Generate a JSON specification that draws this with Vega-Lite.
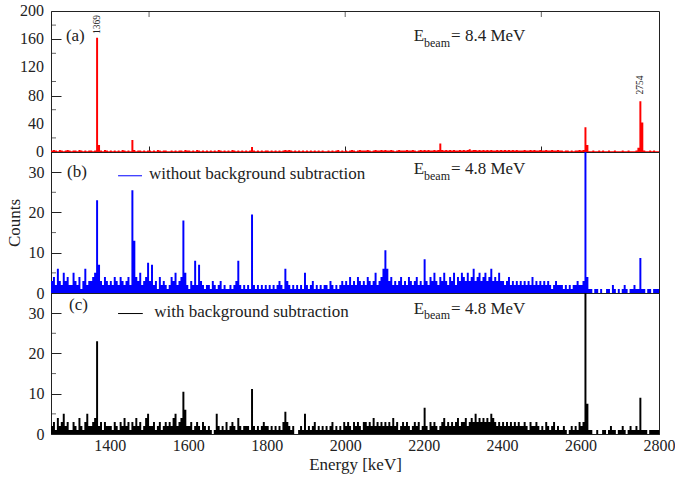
{
"$schema": "https://vega.github.io/schema/vega-lite/v6.json",
"padding": {"left": 4, "top": 2, "right": 0, "bottom": 3},
"spacing": 0,
"bounds": "flush",
"config": {
  "font": "Liberation Serif, Times New Roman, DejaVu Serif, serif",
  "view": {"stroke": "#222222", "strokeWidth": 1},
  "axis": {"labelFont": "Liberation Serif, Times New Roman, DejaVu Serif, serif", "labelFontSize": 16, "labelColor": "#222222", "titleFont": "Liberation Serif, Times New Roman, DejaVu Serif, serif", "titleFontSize": 17, "titleFontWeight": "normal", "titleColor": "#222222", "domainColor": "#222222", "tickColor": "#222222", "grid": false, "labelOverlap": false, "labelFlush": false, "labelBound": false},
  "text": {"font": "Liberation Serif, Times New Roman, DejaVu Serif, serif", "color": "#222222"}
},
"datasets": {
"spec": [
{"e":1250,"a":2,"b":3,"c":2},{"e":1255,"a":3,"b":4,"c":3},{"e":1260,"a":2,"b":2,"c":1},{"e":1265,"a":1,"b":6,"c":4},{"e":1270,"a":3,"b":3,"c":2},{"e":1275,"a":2,"b":2,"c":3},{"e":1280,"a":1,"b":5,"c":5},{"e":1285,"a":2,"b":3,"c":2},{"e":1290,"a":3,"b":4,"c":3},{"e":1295,"a":2,"b":2,"c":1},
{"e":1300,"a":1,"b":2,"c":1},{"e":1305,"a":2,"b":5,"c":3},{"e":1310,"a":2,"b":3,"c":2},{"e":1315,"a":1,"b":2,"c":1},{"e":1320,"a":3,"b":4,"c":4},{"e":1325,"a":2,"b":1,"c":2},{"e":1330,"a":1,"b":3,"c":1},{"e":1335,"a":2,"b":6,"c":3},{"e":1340,"a":1,"b":2,"c":5},{"e":1345,"a":2,"b":3,"c":2},
{"e":1350,"a":2,"b":3,"c":2},{"e":1355,"a":1,"b":4,"c":3},{"e":1360,"a":2,"b":5,"c":4},{"e":1365,"a":162,"b":23,"c":23},{"e":1370,"a":10,"b":7,"c":2},{"e":1375,"a":2,"b":3,"c":3},{"e":1380,"a":1,"b":2,"c":1},{"e":1385,"a":3,"b":4,"c":3},{"e":1390,"a":2,"b":3,"c":2},{"e":1395,"a":1,"b":2,"c":2},
{"e":1400,"a":2,"b":3,"c":2},{"e":1405,"a":1,"b":2,"c":1},{"e":1410,"a":2,"b":4,"c":3},{"e":1415,"a":1,"b":3,"c":2},{"e":1420,"a":2,"b":2,"c":1},{"e":1425,"a":1,"b":4,"c":3},{"e":1430,"a":3,"b":3,"c":2},{"e":1435,"a":2,"b":2,"c":4},{"e":1440,"a":1,"b":3,"c":2},{"e":1445,"a":2,"b":4,"c":3},
{"e":1450,"a":1,"b":2,"c":1},{"e":1455,"a":17,"b":25.5,"c":3},{"e":1460,"a":3,"b":13,"c":2},{"e":1465,"a":1,"b":4,"c":4},{"e":1470,"a":2,"b":3,"c":2},{"e":1475,"a":2,"b":5,"c":3},{"e":1480,"a":1,"b":2,"c":1},{"e":1485,"a":2,"b":3,"c":2},{"e":1490,"a":1,"b":4,"c":4},{"e":1495,"a":2,"b":7.5,"c":5},
{"e":1500,"a":2,"b":3,"c":2},{"e":1505,"a":1,"b":7,"c":2},{"e":1510,"a":2,"b":2,"c":3},{"e":1515,"a":1,"b":3,"c":1},{"e":1520,"a":3,"b":1,"c":2},{"e":1525,"a":2,"b":4,"c":3},{"e":1530,"a":1,"b":2,"c":1},{"e":1535,"a":2,"b":3,"c":2},{"e":1540,"a":2,"b":2,"c":3},{"e":1545,"a":1,"b":1,"c":2},
{"e":1550,"a":1,"b":2,"c":3},{"e":1555,"a":2,"b":4,"c":2},{"e":1560,"a":1,"b":3,"c":4},{"e":1565,"a":2,"b":5,"c":5},{"e":1570,"a":1,"b":2,"c":2},{"e":1575,"a":2,"b":3,"c":3},{"e":1580,"a":2,"b":4,"c":4},{"e":1585,"a":1,"b":18,"c":10.5},{"e":1590,"a":3,"b":5,"c":6},{"e":1595,"a":2,"b":2,"c":2},
{"e":1600,"a":2,"b":1,"c":2},{"e":1605,"a":1,"b":3,"c":3},{"e":1610,"a":2,"b":2,"c":1},{"e":1615,"a":1,"b":8,"c":2},{"e":1620,"a":3,"b":2,"c":3},{"e":1625,"a":2,"b":7,"c":2},{"e":1630,"a":1,"b":3,"c":1},{"e":1635,"a":2,"b":2,"c":3},{"e":1640,"a":1,"b":1,"c":2},{"e":1645,"a":2,"b":2,"c":1},
{"e":1650,"a":1,"b":2,"c":2},{"e":1655,"a":2,"b":1,"c":1},{"e":1660,"a":1,"b":3,"c":0},{"e":1665,"a":2,"b":2,"c":1},{"e":1670,"a":1,"b":1,"c":5},{"e":1675,"a":3,"b":2,"c":2},{"e":1680,"a":2,"b":3,"c":1},{"e":1685,"a":1,"b":1,"c":2},{"e":1690,"a":2,"b":2,"c":1},{"e":1695,"a":1,"b":1,"c":3},
{"e":1700,"a":2,"b":1,"c":1},{"e":1705,"a":1,"b":2,"c":2},{"e":1710,"a":3,"b":1,"c":3},{"e":1715,"a":2,"b":2,"c":2},{"e":1720,"a":1,"b":3,"c":1},{"e":1725,"a":2,"b":8,"c":4},{"e":1730,"a":1,"b":2,"c":2},{"e":1735,"a":2,"b":1,"c":1},{"e":1740,"a":1,"b":2,"c":2},{"e":1745,"a":2,"b":1,"c":2},
{"e":1750,"a":1,"b":2,"c":2},{"e":1755,"a":2,"b":1,"c":1},{"e":1760,"a":7,"b":19.5,"c":11.2},{"e":1765,"a":2,"b":2,"c":2},{"e":1770,"a":1,"b":1,"c":1},{"e":1775,"a":2,"b":2,"c":2},{"e":1780,"a":1,"b":1,"c":1},{"e":1785,"a":2,"b":2,"c":2},{"e":1790,"a":1,"b":1,"c":3},{"e":1795,"a":2,"b":2,"c":2},
{"e":1800,"a":2,"b":1,"c":2},{"e":1805,"a":1,"b":2,"c":1},{"e":1810,"a":2,"b":1,"c":2},{"e":1815,"a":1,"b":2,"c":1},{"e":1820,"a":2,"b":1,"c":2},{"e":1825,"a":1,"b":2,"c":1},{"e":1830,"a":2,"b":3,"c":2},{"e":1835,"a":1,"b":2,"c":1},{"e":1840,"a":2,"b":1,"c":3},{"e":1845,"a":3,"b":6,"c":5.5},
{"e":1850,"a":2,"b":3,"c":3},{"e":1855,"a":3,"b":2,"c":2},{"e":1860,"a":2,"b":1,"c":1},{"e":1865,"a":1,"b":2,"c":2},{"e":1870,"a":2,"b":1,"c":0},{"e":1875,"a":1,"b":2,"c":0},{"e":1880,"a":2,"b":1,"c":1},{"e":1885,"a":1,"b":2,"c":2},{"e":1890,"a":2,"b":1,"c":1},{"e":1895,"a":1,"b":5,"c":5},
{"e":1900,"a":2,"b":2,"c":1},{"e":1905,"a":1,"b":1,"c":2},{"e":1910,"a":2,"b":2,"c":1},{"e":1915,"a":1,"b":3,"c":2},{"e":1920,"a":2,"b":1,"c":3},{"e":1925,"a":1,"b":2,"c":1},{"e":1930,"a":2,"b":1,"c":2},{"e":1935,"a":1,"b":2,"c":1},{"e":1940,"a":2,"b":1,"c":2},{"e":1945,"a":1,"b":2,"c":1},
{"e":1950,"a":1,"b":2,"c":2},{"e":1955,"a":2,"b":1,"c":1},{"e":1960,"a":1,"b":3,"c":2},{"e":1965,"a":2,"b":2,"c":3},{"e":1970,"a":1,"b":1,"c":1},{"e":1975,"a":2,"b":2,"c":2},{"e":1980,"a":3,"b":1,"c":1},{"e":1985,"a":1,"b":2,"c":2},{"e":1990,"a":2,"b":3,"c":1},{"e":1995,"a":1,"b":2,"c":3},
{"e":2000,"a":2,"b":3,"c":2},{"e":2005,"a":1,"b":2,"c":3},{"e":2010,"a":2,"b":4,"c":2},{"e":2015,"a":3,"b":2,"c":1},{"e":2020,"a":2,"b":3,"c":3},{"e":2025,"a":1,"b":2,"c":2},{"e":2030,"a":2,"b":4,"c":3},{"e":2035,"a":3,"b":3,"c":2},{"e":2040,"a":2,"b":2,"c":1},{"e":2045,"a":2,"b":3,"c":3},
{"e":2050,"a":2,"b":2,"c":3},{"e":2055,"a":3,"b":4,"c":2},{"e":2060,"a":2,"b":3,"c":3},{"e":2065,"a":1,"b":2,"c":2},{"e":2070,"a":2,"b":3,"c":4},{"e":2075,"a":3,"b":5,"c":2},{"e":2080,"a":2,"b":2,"c":3},{"e":2085,"a":2,"b":3,"c":2},{"e":2090,"a":3,"b":4,"c":3},{"e":2095,"a":2,"b":6,"c":2},
{"e":2100,"a":3,"b":10.6,"c":3},{"e":2105,"a":2,"b":6,"c":2},{"e":2110,"a":2,"b":3,"c":3},{"e":2115,"a":3,"b":4,"c":2},{"e":2120,"a":2,"b":2,"c":4},{"e":2125,"a":1,"b":3,"c":2},{"e":2130,"a":2,"b":2,"c":3},{"e":2135,"a":3,"b":3,"c":1},{"e":2140,"a":2,"b":4,"c":2},{"e":2145,"a":2,"b":2,"c":3},
{"e":2150,"a":2,"b":3,"c":2},{"e":2155,"a":3,"b":2,"c":3},{"e":2160,"a":2,"b":4,"c":2},{"e":2165,"a":2,"b":3,"c":1},{"e":2170,"a":3,"b":2,"c":2},{"e":2175,"a":2,"b":3,"c":3},{"e":2180,"a":1,"b":4,"c":2},{"e":2185,"a":2,"b":2,"c":3},{"e":2190,"a":3,"b":3,"c":1},{"e":2195,"a":2,"b":2,"c":2},
{"e":2200,"a":3,"b":8.4,"c":6.5},{"e":2205,"a":2,"b":3,"c":2},{"e":2210,"a":3,"b":2,"c":1},{"e":2215,"a":2,"b":4,"c":3},{"e":2220,"a":2,"b":3,"c":2},{"e":2225,"a":3,"b":5,"c":3},{"e":2230,"a":2,"b":3,"c":2},{"e":2235,"a":3,"b":2,"c":1},{"e":2240,"a":12,"b":4,"c":2},{"e":2245,"a":3,"b":3,"c":3},
{"e":2250,"a":2,"b":5,"c":4},{"e":2255,"a":3,"b":3,"c":2},{"e":2260,"a":2,"b":2,"c":3},{"e":2265,"a":3,"b":4,"c":2},{"e":2270,"a":2,"b":3,"c":3},{"e":2275,"a":3,"b":5,"c":2},{"e":2280,"a":2,"b":2,"c":3},{"e":2285,"a":2,"b":4,"c":4},{"e":2290,"a":3,"b":3,"c":2},{"e":2295,"a":2,"b":5,"c":3},
{"e":2300,"a":3,"b":4,"c":3},{"e":2305,"a":2,"b":3,"c":4},{"e":2310,"a":3,"b":5,"c":2},{"e":2315,"a":4,"b":3,"c":3},{"e":2320,"a":2,"b":4,"c":4},{"e":2325,"a":3,"b":6,"c":3},{"e":2330,"a":3,"b":3,"c":5},{"e":2335,"a":2,"b":4,"c":3},{"e":2340,"a":3,"b":5,"c":4},{"e":2345,"a":2,"b":3,"c":3},
{"e":2350,"a":3,"b":4,"c":4},{"e":2355,"a":2,"b":5,"c":3},{"e":2360,"a":3,"b":3,"c":4},{"e":2365,"a":2,"b":4,"c":3},{"e":2370,"a":3,"b":6,"c":5},{"e":2375,"a":2,"b":3,"c":4},{"e":2380,"a":2,"b":4,"c":3},{"e":2385,"a":3,"b":3,"c":2},{"e":2390,"a":2,"b":5,"c":3},{"e":2395,"a":3,"b":3,"c":2},
{"e":2400,"a":2,"b":3,"c":3},{"e":2405,"a":3,"b":2,"c":2},{"e":2410,"a":2,"b":3,"c":3},{"e":2415,"a":3,"b":4,"c":2},{"e":2420,"a":2,"b":2,"c":3},{"e":2425,"a":3,"b":3,"c":2},{"e":2430,"a":2,"b":2,"c":3},{"e":2435,"a":3,"b":3,"c":2},{"e":2440,"a":2,"b":2,"c":3},{"e":2445,"a":2,"b":3,"c":2},
{"e":2450,"a":2,"b":2,"c":2},{"e":2455,"a":3,"b":3,"c":3},{"e":2460,"a":2,"b":2,"c":2},{"e":2465,"a":2,"b":3,"c":1},{"e":2470,"a":3,"b":2,"c":3},{"e":2475,"a":2,"b":4,"c":2},{"e":2480,"a":3,"b":2,"c":2},{"e":2485,"a":2,"b":3,"c":3},{"e":2490,"a":2,"b":2,"c":2},{"e":2495,"a":3,"b":3,"c":1},
{"e":2500,"a":2,"b":2,"c":2},{"e":2505,"a":2,"b":3,"c":1},{"e":2510,"a":3,"b":2,"c":3},{"e":2515,"a":2,"b":3,"c":2},{"e":2520,"a":2,"b":2,"c":1},{"e":2525,"a":3,"b":1,"c":2},{"e":2530,"a":2,"b":2,"c":3},{"e":2535,"a":2,"b":3,"c":1},{"e":2540,"a":3,"b":2,"c":2},{"e":2545,"a":2,"b":2,"c":1},
{"e":2550,"a":2,"b":2,"c":1},{"e":2555,"a":1,"b":1,"c":2},{"e":2560,"a":2,"b":2,"c":1},{"e":2565,"a":2,"b":1,"c":0},{"e":2570,"a":1,"b":2,"c":1},{"e":2575,"a":2,"b":1,"c":2},{"e":2580,"a":1,"b":2,"c":1},{"e":2585,"a":2,"b":2,"c":2},{"e":2590,"a":2,"b":3,"c":1},{"e":2595,"a":3,"b":2,"c":3},
{"e":2600,"a":2,"b":2,"c":2},{"e":2605,"a":3,"b":3,"c":3},{"e":2610,"a":35,"b":60,"c":60},{"e":2615,"a":10,"b":4,"c":7.5},{"e":2620,"a":1,"b":1,"c":1},{"e":2625,"a":1,"b":1,"c":1},{"e":2630,"a":2,"b":0,"c":0},{"e":2635,"a":1,"b":1,"c":0},{"e":2640,"a":1,"b":1,"c":1},{"e":2645,"a":2,"b":0,"c":0},
{"e":2650,"a":1,"b":1,"c":0},{"e":2655,"a":2,"b":0,"c":1},{"e":2660,"a":1,"b":0,"c":1},{"e":2665,"a":1,"b":1,"c":0},{"e":2670,"a":2,"b":1,"c":1},{"e":2675,"a":1,"b":0,"c":2},{"e":2680,"a":1,"b":2,"c":1},{"e":2685,"a":2,"b":1,"c":1},{"e":2690,"a":1,"b":0,"c":0},{"e":2695,"a":1,"b":1,"c":1},
{"e":2700,"a":1,"b":0,"c":1},{"e":2705,"a":2,"b":1,"c":2},{"e":2710,"a":1,"b":2,"c":1},{"e":2715,"a":1,"b":1,"c":0},{"e":2720,"a":2,"b":0,"c":1},{"e":2725,"a":1,"b":1,"c":2},{"e":2730,"a":1,"b":1,"c":1},{"e":2735,"a":1,"b":2,"c":1},{"e":2740,"a":2,"b":1,"c":2},{"e":2745,"a":6,"b":1,"c":1},
{"e":2750,"a":72,"b":8.7,"c":9},{"e":2755,"a":42,"b":1,"c":1},{"e":2760,"a":2,"b":1,"c":1},{"e":2765,"a":1,"b":0,"c":1},{"e":2770,"a":1,"b":1,"c":0},{"e":2775,"a":2,"b":1,"c":1},{"e":2780,"a":1,"b":0,"c":1},{"e":2785,"a":2,"b":1,"c":1},{"e":2790,"a":1,"b":1,"c":1},{"e":2795,"a":1,"b":1,"c":1},
{"e":2800,"a":1,"b":1,"c":1}
]
},
"vconcat": [
{
 "width": 608, "height": 141,
 "layer": [
  {"data": {"name": "spec"},
   "mark": {"type": "area", "interpolate": "step-after", "color": "#ff0000", "clip": true},
   "encoding": {
    "x": {"field": "e", "type": "quantitative", "scale": {"domain": [1250, 2800], "nice": false, "zero": false}, "axis": {"values": [1500, 2000, 2500], "labels": false, "tickSize": -6, "title": null}},
    "y": {"field": "a", "type": "quantitative", "scale": {"domain": [0, 200], "nice": false}, "axis": {"values": [0, 40, 80, 120, 160, 200], "labels": false, "tickSize": -10, "title": null}}
   }},
  {"data": {"values": [{"v": 0}, {"v": 40}, {"v": 80}, {"v": 120}, {"v": 160}, {"v": 200}]},
   "mark": {"type": "text", "fontSize": 16, "align": "right", "baseline": "middle", "dx": -7},
   "encoding": {"x": {"datum": 1250}, "y": {"field": "v", "type": "quantitative"}, "text": {"field": "v", "type": "quantitative"}}},
  {"data": {"values": [{"v": 20}, {"v": 60}, {"v": 100}, {"v": 140}, {"v": 180}]},
   "mark": {"type": "tick", "orient": "horizontal", "size": 10, "thickness": 1, "color": "#222222", "clip": true},
   "encoding": {"x": {"datum": 1250}, "y": {"field": "v", "type": "quantitative"}}},
  {"data": {"values": [{"v": 1500}, {"v": 2000}, {"v": 2500}]},
   "mark": {"type": "tick", "orient": "vertical", "size": 12, "thickness": 1, "color": "#222222", "clip": true},
   "encoding": {"x": {"field": "v", "type": "quantitative"}, "y": {"datum": 200}}},
  {"data": {"values": [{}]}, "mark": {"type": "text", "text": "(a)", "fontSize": 17, "align": "left", "baseline": "alphabetic"},
   "encoding": {"x": {"datum": 1288}, "y": {"datum": 157}}},
  {"data": {"values": [{}]}, "mark": {"type": "text", "text": "1369", "fontSize": 9.5, "angle": 270, "align": "center", "baseline": "middle"},
   "encoding": {"x": {"datum": 1368}, "y": {"datum": 181}}},
  {"data": {"values": [{}]}, "mark": {"type": "text", "text": "2754", "fontSize": 9.5, "angle": 270, "align": "center", "baseline": "middle"},
   "encoding": {"x": {"datum": 2752}, "y": {"datum": 95}}},
  {"data": {"values": [{}]}, "mark": {"type": "text", "text": "E", "fontSize": 17, "align": "left", "baseline": "alphabetic"},
   "encoding": {"x": {"datum": 2175}, "y": {"datum": 157}}},
  {"data": {"values": [{}]}, "mark": {"type": "text", "text": "beam", "fontSize": 12, "align": "left", "baseline": "alphabetic"},
   "encoding": {"x": {"datum": 2201}, "y": {"datum": 149}}},
  {"data": {"values": [{}]}, "mark": {"type": "text", "text": "= 8.4 MeV", "fontSize": 17, "align": "left", "baseline": "alphabetic"},
   "encoding": {"x": {"datum": 2270}, "y": {"datum": 157}}}
 ]
},
{
 "width": 608, "height": 141,
 "layer": [
  {"data": {"name": "spec"},
   "mark": {"type": "area", "interpolate": "step-after", "color": "#0000ff", "clip": true},
   "encoding": {
    "x": {"field": "e", "type": "quantitative", "scale": {"domain": [1250, 2800], "nice": false, "zero": false}, "axis": {"values": [1500, 2000, 2500], "labels": false, "tickSize": -6, "title": null}},
    "y": {"field": "b", "type": "quantitative", "scale": {"domain": [0, 35], "nice": false}, "axis": {"values": [0, 10, 20, 30], "format": "d", "tickSize": -10, "labelPadding": 17, "labelOverlap": false, "labelBound": false, "labelFont": "Liberation Serif, Times New Roman, serif", "labelFontSize": 16, "titleFont": "Liberation Serif, Times New Roman, serif", "titleFontSize": 17, "titleFontWeight": "normal", "title": "Counts", "titlePadding": 5}}
   }},
  {"data": {"values": [{"v": 5}, {"v": 15}, {"v": 25}]},
   "mark": {"type": "tick", "orient": "horizontal", "size": 10, "thickness": 1, "color": "#222222", "clip": true},
   "encoding": {"x": {"datum": 1250}, "y": {"field": "v", "type": "quantitative"}}},
  {"data": {"values": [{}]}, "mark": {"type": "text", "text": "(b)", "fontSize": 17, "align": "left", "baseline": "alphabetic"},
   "encoding": {"x": {"datum": 1291}, "y": {"datum": 28.8}}},
  {"data": {"values": [{}]}, "mark": {"type": "rule", "color": "#0000ff", "strokeWidth": 1},
   "encoding": {"x": {"datum": 1421}, "x2": {"datum": 1482}, "y": {"datum": 29.1}}},
  {"data": {"values": [{}]}, "mark": {"type": "text", "text": "without background subtraction", "fontSize": 17, "align": "left", "baseline": "alphabetic"},
   "encoding": {"x": {"datum": 1500}, "y": {"datum": 28.3}}},
  {"data": {"values": [{}]}, "mark": {"type": "text", "text": "E", "fontSize": 17, "align": "left", "baseline": "alphabetic"},
   "encoding": {"x": {"datum": 2175}, "y": {"datum": 29.5}}},
  {"data": {"values": [{}]}, "mark": {"type": "text", "text": "beam", "fontSize": 12, "align": "left", "baseline": "alphabetic"},
   "encoding": {"x": {"datum": 2201}, "y": {"datum": 28.1}}},
  {"data": {"values": [{}]}, "mark": {"type": "text", "text": "= 4.8 MeV", "fontSize": 17, "align": "left", "baseline": "alphabetic"},
   "encoding": {"x": {"datum": 2270}, "y": {"datum": 29.5}}}
 ]
},
{
 "width": 608, "height": 141,
 "layer": [
  {"data": {"name": "spec"},
   "mark": {"type": "area", "interpolate": "step-after", "color": "#000000", "clip": true},
   "encoding": {
    "x": {"field": "e", "type": "quantitative", "scale": {"domain": [1250, 2800], "nice": false, "zero": false}, "axis": {"values": [1400, 1600, 1800, 2000, 2200, 2400, 2600, 2800], "format": "d", "tickSize": -6, "labelPadding": 9, "labelOverlap": false, "labelBound": false, "labelFlush": false, "labelFont": "Liberation Serif, Times New Roman, serif", "labelFontSize": 16, "titleFont": "Liberation Serif, Times New Roman, serif", "titleFontSize": 17, "titleFontWeight": "normal", "title": "Energy [keV]", "titlePadding": 3}},
    "y": {"field": "c", "type": "quantitative", "scale": {"domain": [0, 35], "nice": false}, "axis": {"values": [0, 10, 20, 30], "format": "d", "tickSize": -10, "labelPadding": 17, "labelOverlap": false, "labelBound": false, "labelFont": "Liberation Serif, Times New Roman, serif", "labelFontSize": 16, "title": null}}
   }},
  {"data": {"values": [{"v": 5}, {"v": 15}, {"v": 25}]},
   "mark": {"type": "tick", "orient": "horizontal", "size": 10, "thickness": 1, "color": "#222222", "clip": true},
   "encoding": {"x": {"datum": 1250}, "y": {"field": "v", "type": "quantitative"}}},
  {"data": {"values": [{}]}, "mark": {"type": "text", "text": "(c)", "fontSize": 17, "align": "left", "baseline": "alphabetic"},
   "encoding": {"x": {"datum": 1296}, "y": {"datum": 30.8}}},
  {"data": {"values": [{}]}, "mark": {"type": "rule", "color": "#000000", "strokeWidth": 1},
   "encoding": {"x": {"datum": 1421}, "x2": {"datum": 1484}, "y": {"datum": 29.9}}},
  {"data": {"values": [{}]}, "mark": {"type": "text", "text": "with background subtraction", "fontSize": 17, "align": "left", "baseline": "alphabetic"},
   "encoding": {"x": {"datum": 1513}, "y": {"datum": 29}}},
  {"data": {"values": [{}]}, "mark": {"type": "text", "text": "E", "fontSize": 17, "align": "left", "baseline": "alphabetic"},
   "encoding": {"x": {"datum": 2175}, "y": {"datum": 29.9}}},
  {"data": {"values": [{}]}, "mark": {"type": "text", "text": "beam", "fontSize": 12, "align": "left", "baseline": "alphabetic"},
   "encoding": {"x": {"datum": 2201}, "y": {"datum": 28.5}}},
  {"data": {"values": [{}]}, "mark": {"type": "text", "text": "= 4.8 MeV", "fontSize": 17, "align": "left", "baseline": "alphabetic"},
   "encoding": {"x": {"datum": 2270}, "y": {"datum": 29.9}}}
 ]
}
]
}
